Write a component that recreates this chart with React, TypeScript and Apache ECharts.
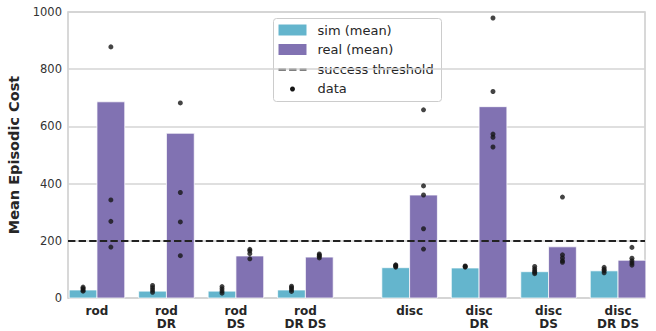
import React, { useEffect, useRef } from "react";
import * as echarts from "echarts";

const categories = ["rod", "rod\nDR", "rod\nDS", "rod\nDR DS", "disc", "disc\nDR", "disc\nDS", "disc\nDR DS"];
const positions = [0, 1, 2, 3, 4.5, 5.5, 6.5, 7.5];
const simMean = [28, 24, 24, 28, 106, 105, 92, 95];
const realMean = [686, 576, 147, 143, 360, 669, 179, 132];
const simRuns = [
  [24, 28, 33, 38],
  [20, 28, 36, 44],
  [17, 24, 32, 40],
  [23, 30, 36, 41],
  [108, 111, 114, 116],
  [108, 110, 112],
  [85, 90, 95, 102, 110],
  [88, 95, 100, 107],
];
const realRuns = [
  [878, 343, 268, 178],
  [682, 369, 266, 148],
  [137, 155, 165, 170],
  [140, 146, 150, 154],
  [658, 392, 360, 242, 171],
  [979, 722, 573, 562, 528],
  [353, 151, 140, 130, 125],
  [177, 139, 130, 122, 115],
];
const threshold = 200;
const yTicks = { min: 0, max: 1000, interval: 200 };
const legendLabels = ["sim (mean)", "real (mean)", "success threshold", "data"];

const SIM_COLOR = "#64b5cd";
const REAL_COLOR = "#8172b2";

export default function App() {
  const ref = useRef<HTMLDivElement>(null);
  useEffect(() => {
    if (!ref.current) return;
    const chart = echarts.init(ref.current, null, { renderer: "svg" });
    const gridLeft = 68, gridRight = 11, gridTop = 12, gridBottom = 33;
    const xMin = -0.417, xMax = 7.888;
    const half = 0.4; // bar width in category units
    const off = 0.2;

    const simBars = positions.map((p, i) => [p, simMean[i]]);
    const realBars = positions.map((p, i) => [p, realMean[i]]);
    const dots: number[][] = [];
    positions.forEach((p, i) => {
      simRuns[i].forEach((v) => dots.push([p - off, v]));
      realRuns[i].forEach((v) => dots.push([p + off, v]));
    });

    const barRenderer = (dir: number, color: string) => (params: any, api: any) => {
      const p = api.value(0);
      const v = api.value(1);
      const a = api.coord([dir < 0 ? p - half : p, v]);
      const b = api.coord([dir < 0 ? p : p + half, 0]);
      return {
        type: "rect",
        shape: { x: a[0], y: a[1], width: b[0] - a[0], height: b[1] - a[1] },
        style: { fill: color, stroke: "rgba(255,255,255,0.75)", lineWidth: 1 },
      };
    };

    const textColor = "#262626";
    const font = "DejaVu Sans";
    const lx = 273, ly = 18;
    chart.setOption({
      animation: false,
      grid: {
        left: gridLeft, right: gridRight, top: gridTop, bottom: gridBottom,
        outerBoundsMode: "none",
        containLabel: false,
        show: true, borderColor: "#cccccc", borderWidth: 1.5, backgroundColor: "#ffffff",
      },
      xAxis: {
        type: "value",
        min: xMin,
        max: xMax,
        splitLine: { show: false },
        axisLine: { show: false },
        axisTick: { show: false },
        axisLabel: {
          customValues: positions,
          formatter: (v: number) => {
            const idx = positions.findIndex((p) => Math.abs(p - v) < 1e-6);
            return idx >= 0 ? categories[idx] : "";
          },
          fontFamily: font,
          fontWeight: "bold",
          fontSize: 12,
          lineHeight: 13,
          color: textColor,
          margin: 6,
          showMinLabel: true,
          showMaxLabel: true,
        },
      },
      yAxis: {
        type: "value",
        min: yTicks.min,
        max: yTicks.max,
        interval: yTicks.interval,
        name: "Mean Episodic Cost",
        nameLocation: "middle",
        nameGap: 44,
        nameTextStyle: { fontFamily: font, fontWeight: "bold", fontSize: 14.5, color: textColor },
        axisLine: { show: false },
        axisTick: { show: false },
        axisLabel: {
          fontFamily: font, fontSize: 11.5, color: "#333333", margin: 6,
          formatter: (v: number) => String(v),
        },
        splitLine: { lineStyle: { color: "#d5d5d5", width: 1.5 } },
      },
      series: [
        {
          name: "sim (mean)",
          type: "custom",
          data: simBars,
          encode: { x: 0, y: 1 },
          renderItem: barRenderer(-1, SIM_COLOR),
          z: 2,
        },
        {
          name: "real (mean)",
          type: "custom",
          data: realBars,
          encode: { x: 0, y: 1 },
          renderItem: barRenderer(1, REAL_COLOR),
          z: 2,
        },
        {
          name: "success threshold",
          type: "line",
          data: [],
          markLine: {
            silent: true,
            symbol: ["none", "none"],
            label: { show: false },
            lineStyle: { color: "#222222", type: [7.4, 3.2], width: 2 },
            data: [{ yAxis: threshold }],
          },
          z: 5,
        },
        {
          name: "data",
          type: "scatter",
          data: dots,
          symbol: "circle",
          symbolSize: 5,
          itemStyle: { color: "#151515" },
          z: 10,
        },
      ],
      graphic: [
        {
          type: "group",
          left: lx,
          top: ly,
          z: 100,
          children: [
            {
              type: "rect",
              shape: { x: 0, y: 0, width: 168, height: 83, r: 3 },
              style: { fill: "rgba(255,255,255,0.92)", stroke: "#cccccc", lineWidth: 1 },
            },
            { type: "rect", shape: { x: 5, y: 6, width: 28, height: 11 }, style: { fill: SIM_COLOR } },
            { type: "rect", shape: { x: 5, y: 25.5, width: 28, height: 11 }, style: { fill: REAL_COLOR } },
            {
              type: "line",
              shape: { x1: 5, y1: 51, x2: 33, y2: 51 },
              style: { stroke: "#000000", lineWidth: 2, lineDash: [7.4, 3.2] },
            },
            { type: "circle", shape: { cx: 19, cy: 70.5, r: 2.5 }, style: { fill: "#151515" } },
            ...legendLabels.map((t, i) => ({
              type: "text",
              x: 44,
              y: 11.5 + i * 19.6,
              style: {
                text: t,
                fontFamily: font,
                fontSize: 13,
                fill: textColor,
                verticalAlign: "middle",
                align: "left",
              },
            })),
          ],
        },
      ],
    });
    return () => chart.dispose();
  }, []);
  return <div ref={ref} style={{ width: 656, height: 331, position: "absolute", left: 0, top: 0 }} />;
}
